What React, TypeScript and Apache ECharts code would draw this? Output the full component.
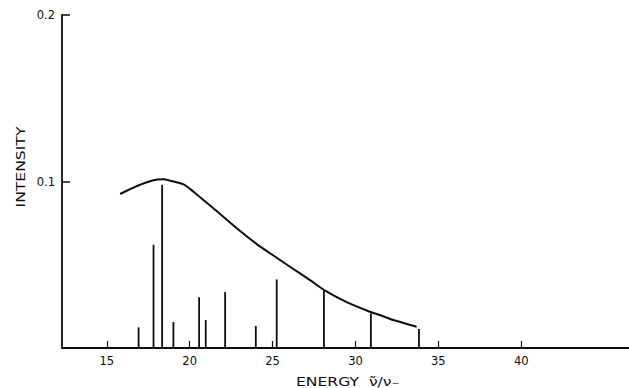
import React, { useEffect, useRef } from "react";
import * as echarts from "echarts";

const xTickValues = [15, 20, 25, 30, 35, 40];
const yTickValues = [0.1, 0.2];

const stickEnergies = [16.92, 17.82, 18.34, 19.02, 20.57, 20.97, 22.14, 23.99, 25.25, 28.1, 30.93, 33.83];
const stickIntensities = [0.0124, 0.062, 0.098, 0.0156, 0.0305, 0.0168, 0.0336, 0.0132, 0.0412, 0.0348, 0.0208, 0.0114];

const curveEnergies = [15.81, 16.82, 17.82, 18.4, 18.83, 19.63, 20.23, 21.43, 22.84, 24.05, 24.85, 26.05, 27.26, 28.12, 29.47, 30.87, 31.47, 32.28, 33.69];
const curveIntensities = [0.0925, 0.0973, 0.1008, 0.1013, 0.1005, 0.0983, 0.0939, 0.0839, 0.0719, 0.0624, 0.0569, 0.0488, 0.0408, 0.0348, 0.0276, 0.0218, 0.0198, 0.0168, 0.0128];

const INK = "#0d0d0d";
const FONT = "DejaVu Sans";

export default function App() {
  const ref = useRef<HTMLDivElement>(null);
  useEffect(() => {
    if (!ref.current) return;
    const chart = echarts.init(ref.current, null, { renderer: "svg" });
    const sticks = stickEnergies.map((e, i) => [e, stickIntensities[i]]);
    const curve = curveEnergies.map((e, i) => [e, curveIntensities[i]]);
    chart.setOption({
      animation: false,
      backgroundColor: "#fff",
      grid: { left: 62, right: 0, top: 15, bottom: 40, outerBoundsMode: "none", containLabel: false },
      xAxis: {
        type: "value",
        min: 12.3,
        max: 46.5,
        splitLine: { show: false },
        axisLine: { show: true, lineStyle: { color: INK, width: 1.8 } },
        axisTick: { show: true, inside: true, length: 7, customValues: xTickValues, lineStyle: { color: INK, width: 1.2 } },
        axisLabel: { customValues: xTickValues, color: INK, fontSize: 11.5, fontFamily: FONT, margin: 7 },
      },
      yAxis: {
        type: "value",
        min: 0,
        max: 0.2,
        interval: 0.1,
        splitLine: { show: false },
        axisLine: { show: true, lineStyle: { color: INK, width: 1.8 } },
        axisTick: { show: true, inside: true, length: 8, customValues: yTickValues, lineStyle: { color: INK, width: 1.5 } },
        axisLabel: {
          customValues: yTickValues,
          color: INK,
          fontSize: 11.5,
          fontFamily: FONT,
          margin: 7,
          formatter: (v: number) => v.toFixed(1),
        },
      },
      series: [
        {
          type: "custom",
          data: sticks,
          encode: { x: 0, y: 1 },
          renderItem: (params: any, api: any) => {
            const x = api.value(0);
            const y = api.value(1);
            const p0 = api.coord([x, 0]);
            const p1 = api.coord([x, y]);
            return {
              type: "line",
              shape: { x1: p0[0], y1: p0[1], x2: p1[0], y2: p1[1] },
              style: { stroke: INK, lineWidth: 1.8 },
            };
          },
        },
        {
          type: "line",
          data: curve,
          smooth: 0.25,
          showSymbol: false,
          symbol: "none",
          lineStyle: { color: INK, width: 2 },
        },
      ],
      graphic: [
        {
          type: "text",
          x: 20,
          y: 167,
          rotation: Math.PI / 2,
          scaleX: 1.2,
          style: {
            text: "INTENSITY",
            fill: INK,
            font: `13px "${FONT}"`,
            align: "center",
            verticalAlign: "middle",
          },
        },
        {
          type: "text",
          x: 296,
          y: 381,
          scaleX: 1.2,
          style: {
            text: "ENERGY  ν̃/ν₋",
            fill: INK,
            font: `13px "${FONT}"`,
            align: "left",
            verticalAlign: "middle",
          },
        },
      ],
    });
    return () => chart.dispose();
  }, []);
  return <div ref={ref} style={{ position: "absolute", left: 0, top: 0, width: 629, height: 388 }} />;
}
